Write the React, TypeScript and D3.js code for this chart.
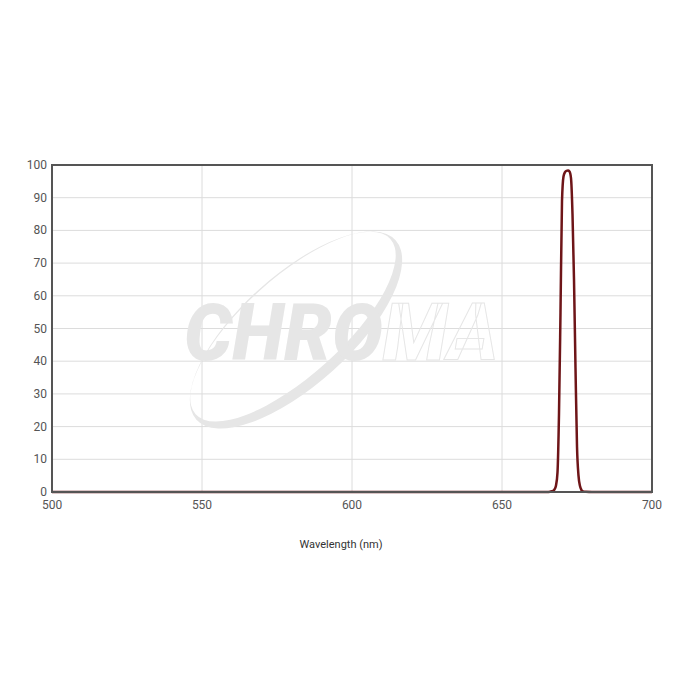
import { useEffect, useRef } from 'react'
import * as d3 from 'd3'

// transmission curve (wavelength nm, %T)
const wavelengths = [500, 600, 660, 665, 666, 667, 667.5, 668, 668.5, 669, 669.5, 670, 670.5, 671, 671.5, 672, 672.5, 673, 673.5, 674, 674.5, 675, 675.5, 676, 676.5, 677, 678, 680, 700]
const transmission = [0, 0, 0, 0.02, 0.1, 0.3, 0.8, 2, 6, 24, 55, 89, 96.5, 97.8, 98.2, 98.3, 98, 96, 85, 65, 38, 14, 5, 1.8, 0.6, 0.2, 0.05, 0, 0]
const xTicks = [500, 550, 600, 650, 700]
const yTicks = [0, 10, 20, 30, 40, 50, 60, 70, 80, 90, 100]

const COLORS = {
  line: '#6e1518',
  frame: '#555',
  grid: '#dcdcdc',
  tick: '#555',
  label: '#333',
  mark: '#e6e6e6',
}

export default function App() {
  const svgRef = useRef<SVGSVGElement>(null)

  useEffect(() => {
    if (!svgRef.current) return
    const width = 700
    const height = 700
    const margin = { top: 165, right: 48, bottom: 208, left: 52 }

    const svg = d3.select(svgRef.current)
    svg.selectAll('*').remove()

    const W = width - margin.left - margin.right
    const H = height - margin.top - margin.bottom
    const g = svg.append('g').attr('transform', `translate(${margin.left},${margin.top})`)

    const x = d3.scaleLinear().domain([500, 700]).range([0, W])
    const y = d3.scaleLinear().domain([0, 100]).range([H, 0])

    // Grid
    g.append('g').selectAll('line').data(yTicks.slice(1, -1)).join('line')
      .attr('x1', 0).attr('x2', W).attr('y1', d => y(d)).attr('y2', d => y(d))
      .attr('stroke', COLORS.grid).attr('stroke-width', 1)
    g.append('g').selectAll('line').data(xTicks.slice(1, -1)).join('line')
      .attr('x1', d => x(d)).attr('x2', d => x(d)).attr('y1', 0).attr('y2', H)
      .attr('stroke', COLORS.grid).attr('stroke-width', 1)

    // Watermark: swoosh ring + wordmark
    const wm = g.append('g').attr('transform', `translate(${296 - margin.left},${330 - margin.top})`)
    const ell = (rx: number, ry: number, cy: number) =>
      `M${-rx},${cy}a${rx},${ry} 0 1,0 ${2 * rx},0a${rx},${ry} 0 1,0 ${-2 * rx},0Z`
    wm.append('path').attr('d', ell(134, 55, 0) + ell(131, 49, -4.5))
      .attr('transform', 'rotate(-42)')
      .attr('fill', COLORS.mark).attr('fill-rule', 'evenodd')
    const wmText = wm.append('text').attr('x', -112).attr('y', 30)
      .attr('font-family', 'Roboto, sans-serif').attr('font-weight', 900).attr('font-style', 'italic')
      .attr('font-size', 80).attr('textLength', 314).attr('lengthAdjust', 'spacingAndGlyphs')
    wmText.append('tspan').text('CHRO').attr('fill', COLORS.mark)
    wmText.append('tspan').text('MA').attr('fill', 'none').attr('stroke', COLORS.mark).attr('stroke-width', 1)

    // Curve
    const pts = wavelengths.map((w, i) => [w, transmission[i]] as [number, number])
    const line = d3.line<[number, number]>().x(d => x(d[0])).y(d => y(d[1])).curve(d3.curveMonotoneX)
    g.append('path').datum(pts).attr('d', line)
      .attr('fill', 'none').attr('stroke', COLORS.line).attr('stroke-width', 2.5)

    // Frame
    g.append('rect').attr('x', 0).attr('y', 0).attr('width', W).attr('height', H)
      .attr('fill', 'none').attr('stroke', COLORS.frame).attr('stroke-width', 2)

    // Tick labels
    g.append('g').selectAll('text').data(yTicks).join('text')
      .attr('x', -5).attr('y', d => y(d) + 4).attr('text-anchor', 'end')
      .attr('font-family', 'Roboto, sans-serif').attr('font-size', 12).attr('fill', COLORS.tick)
      .text(d => d)
    g.append('g').selectAll('text').data(xTicks).join('text')
      .attr('x', d => x(d)).attr('y', H + 17).attr('text-anchor', 'middle')
      .attr('font-family', 'Roboto, sans-serif').attr('font-size', 12).attr('fill', COLORS.tick)
      .text(d => d)

    g.append('text').attr('x', 341 - margin.left).attr('y', H + 56).attr('text-anchor', 'middle')
      .attr('font-family', 'Roboto, sans-serif').attr('font-size', 11).attr('fill', COLORS.label)
      .text('Wavelength (nm)')
  }, [])

  return <svg ref={svgRef} width={700} height={700} style={{ display: 'block', margin: -8 }} />
}
